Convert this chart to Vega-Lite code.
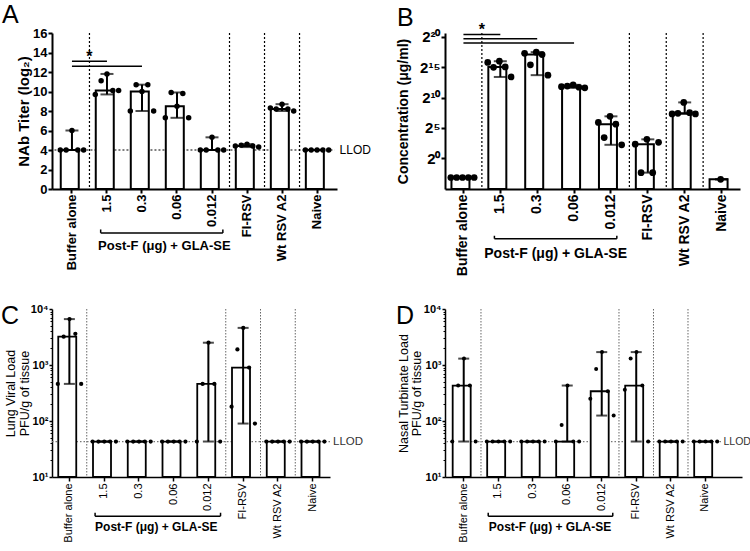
{
"$schema":"https://vega.github.io/schema/vega-lite/v6.json",
"padding":{"left":1,"top":3,"right":2,"bottom":0},
"config":{"font":"Liberation Sans","view":{"stroke":null},"axis":{"grid":false,"domainColor":"#000","tickColor":"#000","labelColor":"#000","titleColor":"#000","labelOverlap":false},"rule":{"color":"#000"},"tick":{"color":"#000"},"text":{"color":"#000"},"title":{"color":"#000"}},
"datasets":{
"A":[
{"g":"Buffer alone","v":4,"r":1},{"g":"Buffer alone","v":4,"r":2},{"g":"Buffer alone","v":6,"r":3},{"g":"Buffer alone","v":4,"r":4},{"g":"Buffer alone","v":4,"r":5},
{"g":"1.5","v":9.7,"r":1},{"g":"1.5","v":11.1,"r":2},{"g":"1.5","v":11.8,"r":3},{"g":"1.5","v":10.1,"r":4},{"g":"1.5","v":10.1,"r":5},
{"g":"0.3","v":8.0,"r":1},{"g":"0.3","v":10.7,"r":2},{"g":"0.3","v":10.0,"r":3},{"g":"0.3","v":10.7,"r":4},{"g":"0.3","v":8.0,"r":5},
{"g":"0.06","v":7.3,"r":1},{"g":"0.06","v":9.9,"r":2},{"g":"0.06","v":8.5,"r":3},{"g":"0.06","v":9.8,"r":4},{"g":"0.06","v":7.3,"r":5},
{"g":"0.012","v":4,"r":1},{"g":"0.012","v":4,"r":2},{"g":"0.012","v":5.3,"r":3},{"g":"0.012","v":4,"r":4},{"g":"0.012","v":4,"r":5},
{"g":"FI-RSV","v":4.4,"r":1},{"g":"FI-RSV","v":4.5,"r":2},{"g":"FI-RSV","v":4.6,"r":3},{"g":"FI-RSV","v":4.4,"r":4},{"g":"FI-RSV","v":4.3,"r":5},
{"g":"Wt RSV A2","v":8.3,"r":1},{"g":"Wt RSV A2","v":8.2,"r":2},{"g":"Wt RSV A2","v":8.7,"r":3},{"g":"Wt RSV A2","v":8.2,"r":4},{"g":"Wt RSV A2","v":8.0,"r":5},
{"g":"Naive","v":4,"r":1},{"g":"Naive","v":4,"r":2},{"g":"Naive","v":4,"r":3},{"g":"Naive","v":4,"r":4},{"g":"Naive","v":4,"r":5}],
"B":[
{"g":"Buffer alone","v":0.1088,"r":1},{"g":"Buffer alone","v":0.1088,"r":2},{"g":"Buffer alone","v":0.1088,"r":3},{"g":"Buffer alone","v":0.1088,"r":4},{"g":"Buffer alone","v":0.1088,"r":5},
{"g":"1.5","v":57053,"r":1},{"g":"1.5","v":32768,"r":2},{"g":"1.5","v":65536,"r":3},{"g":"1.5","v":34000,"r":4},{"g":"1.5","v":10809,"r":5},
{"g":"0.3","v":161368,"r":1},{"g":"0.3","v":43238,"r":2},{"g":"0.3","v":185364,"r":3},{"g":"0.3","v":140479,"r":4},{"g":"0.3","v":13308,"r":5},
{"g":"0.06","v":3566,"r":1},{"g":"0.06","v":3822,"r":2},{"g":"0.06","v":4390,"r":3},{"g":"0.06","v":3327,"r":4},{"g":"0.06","v":3104,"r":5},
{"g":"0.012","v":59.7,"r":1},{"g":"0.012","v":10.56,"r":2},{"g":"0.012","v":119.4,"r":3},{"g":"0.012","v":48.5,"r":4},{"g":"0.012","v":4.59,"r":5},
{"g":"FI-RSV","v":4.92,"r":1},{"g":"FI-RSV","v":0.1895,"r":2},{"g":"FI-RSV","v":8.57,"r":3},{"g":"FI-RSV","v":0.1895,"r":4},{"g":"FI-RSV","v":6.06,"r":5},
{"g":"Wt RSV A2","v":157.6,"r":1},{"g":"Wt RSV A2","v":168.9,"r":2},{"g":"Wt RSV A2","v":588,"r":3},{"g":"Wt RSV A2","v":181,"r":4},{"g":"Wt RSV A2","v":157.6,"r":5},
{"g":"Naive","v":0.0884,"r":3}],
"C":[
{"g":"Buffer alone","v":460,"r":1},{"g":"Buffer alone","v":3200,"r":2},{"g":"Buffer alone","v":6600,"r":3},{"g":"Buffer alone","v":3600,"r":4},{"g":"Buffer alone","v":460,"r":5},
{"g":"1.5","v":43,"r":1},{"g":"1.5","v":43,"r":2},{"g":"1.5","v":43,"r":3},{"g":"1.5","v":43,"r":4},{"g":"1.5","v":43,"r":5},
{"g":"0.3","v":43,"r":1},{"g":"0.3","v":43,"r":2},{"g":"0.3","v":43,"r":3},{"g":"0.3","v":43,"r":4},{"g":"0.3","v":43,"r":5},
{"g":"0.06","v":43,"r":1},{"g":"0.06","v":43,"r":2},{"g":"0.06","v":43,"r":3},{"g":"0.06","v":43,"r":4},{"g":"0.06","v":43,"r":5},
{"g":"0.012","v":43,"r":1},{"g":"0.012","v":460,"r":2},{"g":"0.012","v":2500,"r":3},{"g":"0.012","v":460,"r":4},{"g":"0.012","v":43,"r":5},
{"g":"FI-RSV","v":180,"r":1},{"g":"FI-RSV","v":1900,"r":2},{"g":"FI-RSV","v":4600,"r":3},{"g":"FI-RSV","v":900,"r":4},{"g":"FI-RSV","v":90,"r":5},
{"g":"Wt RSV A2","v":43,"r":1},{"g":"Wt RSV A2","v":43,"r":2},{"g":"Wt RSV A2","v":43,"r":3},{"g":"Wt RSV A2","v":43,"r":4},{"g":"Wt RSV A2","v":43,"r":5},
{"g":"Naive","v":43,"r":1},{"g":"Naive","v":43,"r":2},{"g":"Naive","v":43,"r":3},{"g":"Naive","v":43,"r":4},{"g":"Naive","v":43,"r":5}],
"D":[
{"g":"Buffer alone","v":43,"r":1},{"g":"Buffer alone","v":430,"r":2},{"g":"Buffer alone","v":1300,"r":3},{"g":"Buffer alone","v":430,"r":4},{"g":"Buffer alone","v":43,"r":5},
{"g":"1.5","v":43,"r":1},{"g":"1.5","v":43,"r":2},{"g":"1.5","v":43,"r":3},{"g":"1.5","v":43,"r":4},{"g":"1.5","v":43,"r":5},
{"g":"0.3","v":43,"r":1},{"g":"0.3","v":43,"r":2},{"g":"0.3","v":43,"r":3},{"g":"0.3","v":43,"r":4},{"g":"0.3","v":43,"r":5},
{"g":"0.06","v":43,"r":1},{"g":"0.06","v":85,"r":2},{"g":"0.06","v":430,"r":3},{"g":"0.06","v":43,"r":4},{"g":"0.06","v":43,"r":5},
{"g":"0.012","v":250,"r":1},{"g":"0.012","v":850,"r":2},{"g":"0.012","v":1700,"r":3},{"g":"0.012","v":340,"r":4},{"g":"0.012","v":125,"r":5},
{"g":"FI-RSV","v":360,"r":1},{"g":"FI-RSV","v":1300,"r":2},{"g":"FI-RSV","v":1700,"r":3},{"g":"FI-RSV","v":430,"r":4},{"g":"FI-RSV","v":43,"r":5},
{"g":"Wt RSV A2","v":43,"r":1},{"g":"Wt RSV A2","v":43,"r":2},{"g":"Wt RSV A2","v":43,"r":3},{"g":"Wt RSV A2","v":43,"r":4},{"g":"Wt RSV A2","v":43,"r":5},
{"g":"Naive","v":43,"r":1},{"g":"Naive","v":43,"r":2},{"g":"Naive","v":43,"r":3},{"g":"Naive","v":43,"r":4},{"g":"Naive","v":43,"r":5}]
},
"columns":2,"align":"all","bounds":"flush","spacing":{"row":108,"column":96},
"concat":[
{"width":285,"height":156,
"title":{"text":"A","anchor":"start","frame":"group","fontSize":25,"fontWeight":"normal","dx":-50,"dy":3,"offset":2},
"data":{"name":"A"},
"layer":[
{"data":{"values":[{"g":"1.5"},{"g":"FI-RSV"},{"g":"Wt RSV A2"},{"g":"Naive"}]},"mark":{"type":"rule","strokeWidth":1.2,"strokeDash":[2,2]},"encoding":{"x":{"field":"g","type":"nominal","bandPosition":0,"scale":{"domain":["Buffer alone","1.5","0.3","0.06","0.012","FI-RSV","Wt RSV A2","Naive"]}}}},
{"data":{"values":[{"g":"Buffer alone","g2":"Naive","y":4}]},"mark":{"type":"rule","strokeWidth":1.2,"strokeDash":[2,2]},"encoding":{"x":{"field":"g","type":"nominal","bandPosition":0},"x2":{"field":"g2","bandPosition":1},"y":{"field":"y","type":"quantitative"}}},
{"transform":[{"aggregate":[{"op":"median","field":"v","as":"med"}],"groupby":["g"]}],"mark":{"type":"bar","fill":"#fff","stroke":"#000","strokeWidth":2,"width":{"band":0.64}},"encoding":{"x":{"field":"g","type":"nominal","scale":{"domain":["Buffer alone","1.5","0.3","0.06","0.012","FI-RSV","Wt RSV A2","Naive"],"paddingInner":0,"paddingOuter":0.07},"axis":{"title":null,"labelAngle":-90,"labelFontSize":13,"labelFontWeight":"bold","labelPadding":1,"tickSize":4,"tickWidth":2,"domainWidth":2}},"y":{"field":"med","type":"quantitative","scale":{"domain":[0,16],"nice":false},"axis":{"title":"NAb Titer (log₂)","values":[0,2,4,6,8,10,12,14,16],"tickCount":20,"labelOverlap":false,"labelFlush":false,"titleFontSize":15,"titleFontWeight":"bold","titlePadding":1,"labelFontSize":13,"labelFontWeight":"bold","labelPadding":1,"tickSize":4,"tickWidth":2,"domainWidth":2}}}},
{"transform":[{"aggregate":[{"op":"min","field":"v","as":"mn"},{"op":"max","field":"v","as":"mx"}],"groupby":["g"]}],"layer":[
{"mark":{"type":"rule","strokeWidth":2},"encoding":{"x":{"field":"g","type":"nominal"},"y":{"field":"mn","type":"quantitative"},"y2":{"field":"mx"}}},
{"mark":{"type":"tick","orient":"horizontal","size":13,"thickness":2},"encoding":{"x":{"field":"g","type":"nominal"},"y":{"field":"mx","type":"quantitative"}}},
{"mark":{"type":"tick","orient":"horizontal","size":13,"thickness":2},"encoding":{"x":{"field":"g","type":"nominal"},"y":{"field":"mn","type":"quantitative"}}}]},
{"mark":{"type":"circle","size":30,"opacity":1,"color":"#000"},"encoding":{"x":{"field":"g","type":"nominal"},"xOffset":{"field":"r","type":"nominal","scale":{"paddingInner":0,"paddingOuter":1.06}},"y":{"field":"v","type":"quantitative"}}},
{"data":{"values":[{"g":"Buffer alone","g2":"1.5","y":13.1},{"g":"Buffer alone","g2":"0.3","y":12.6}]},"mark":{"type":"rule","strokeWidth":1.5},"encoding":{"x":{"field":"g","type":"nominal","bandPosition":0.5},"x2":{"field":"g2","bandPosition":0.5},"y":{"field":"y","type":"quantitative"}}},
{"data":{"values":[{"g":"1.5","y":13.5,"t":"*"}]},"mark":{"type":"text","fontSize":16,"fontWeight":"bold","baseline":"middle"},"encoding":{"x":{"field":"g","type":"nominal","bandPosition":0},"y":{"field":"y","type":"quantitative"},"text":{"field":"t"}}},
{"data":{"values":[{"g":"Naive","y":4,"t":"LLOD"}]},"mark":{"type":"text","align":"left","baseline":"middle","dx":5,"fontSize":12},"encoding":{"x":{"field":"g","type":"nominal","bandPosition":1},"y":{"field":"y","type":"quantitative"},"text":{"field":"t"}}},
{"data":{"values":[{"g":"1.5","g2":"0.012","y":-4.5}]},"mark":{"type":"rule","strokeWidth":1.5},"encoding":{"x":{"field":"g","type":"nominal","bandPosition":0.32},"x2":{"field":"g2","bandPosition":0.81},"y":{"field":"y","type":"quantitative"}}},
{"data":{"values":[{"g":"1.5","y":-4.5,"y2":-4.15}]},"mark":{"type":"rule","strokeWidth":1.5},"encoding":{"x":{"field":"g","type":"nominal","bandPosition":0.32},"y":{"field":"y","type":"quantitative"},"y2":{"field":"y2"}}},
{"data":{"values":[{"g":"0.012","y":-4.5,"y2":-4.15}]},"mark":{"type":"rule","strokeWidth":1.5},"encoding":{"x":{"field":"g","type":"nominal","bandPosition":0.81},"y":{"field":"y","type":"quantitative"},"y2":{"field":"y2"}}},
{"data":{"values":[{"g":"0.06","y":-4.5,"t":"Post-F (μg) + GLA-SE"}]},"mark":{"type":"text","baseline":"top","dy":7,"fontSize":13,"fontWeight":"bold"},"encoding":{"x":{"field":"g","type":"nominal","bandPosition":0.14},"y":{"field":"y","type":"quantitative"},"text":{"field":"t"}}}
]},
{"width":295,"height":156,
"title":{"text":"B","anchor":"start","frame":"group","fontSize":25,"fontWeight":"normal","dx":-48,"dy":11,"offset":2},
"data":{"name":"B"},
"layer":[
{"data":{"values":[{"g":"1.5"},{"g":"FI-RSV"},{"g":"Wt RSV A2"},{"g":"Naive"}]},"mark":{"type":"rule","strokeWidth":1.2,"strokeDash":[2,2]},"encoding":{"x":{"field":"g","type":"nominal","bandPosition":0,"scale":{"domain":["Buffer alone","1.5","0.3","0.06","0.012","FI-RSV","Wt RSV A2","Naive"]}}}},
{"transform":[{"aggregate":[{"op":"median","field":"v","as":"med"}],"groupby":["g"]}],"mark":{"type":"bar","fill":"#fff","stroke":"#000","strokeWidth":2,"width":{"band":0.65}},"encoding":{"x":{"field":"g","type":"nominal","scale":{"domain":["Buffer alone","1.5","0.3","0.06","0.012","FI-RSV","Wt RSV A2","Naive"],"paddingInner":0,"paddingOuter":0},"axis":{"title":null,"labelAngle":-90,"labelFontSize":14,"labelFontWeight":"bold","labelPadding":1,"tickSize":4,"tickWidth":2,"domainWidth":2}},"y":{"field":"med","type":"quantitative","scale":{"type":"log","base":2,"domain":[0.02916,1656750],"nice":false},"axis":{"title":"Concentration  (μg/ml)","values":[1,32,1024,32768,1048576],"tickCount":20,"labelOverlap":false,"labelExpr":"datum.value < 2 ? '2⁰' : datum.value < 40 ? '2⁵' : datum.value < 2000 ? '2¹⁰' : datum.value < 40000 ? '2¹⁵' : '2²⁰'","titleFontSize":14,"titleFontWeight":"bold","titlePadding":9,"labelFontSize":15,"labelFontWeight":"bold","labelPadding":1,"tickSize":4,"tickWidth":2,"domainWidth":2}},"y2":{"datum":0.02916}}},
{"transform":[{"aggregate":[{"op":"min","field":"v","as":"mn"},{"op":"max","field":"v","as":"mx"}],"groupby":["g"]}],"layer":[
{"mark":{"type":"rule","strokeWidth":2},"encoding":{"x":{"field":"g","type":"nominal"},"y":{"field":"mn","type":"quantitative"},"y2":{"field":"mx"}}},
{"mark":{"type":"tick","orient":"horizontal","size":13,"thickness":2},"encoding":{"x":{"field":"g","type":"nominal"},"y":{"field":"mx","type":"quantitative"}}},
{"mark":{"type":"tick","orient":"horizontal","size":13,"thickness":2},"encoding":{"x":{"field":"g","type":"nominal"},"y":{"field":"mn","type":"quantitative"}}}]},
{"mark":{"type":"circle","size":45,"opacity":1,"color":"#000"},"encoding":{"x":{"field":"g","type":"nominal"},"xOffset":{"field":"r","type":"nominal","scale":{"paddingInner":0,"paddingOuter":1.2}},"y":{"field":"v","type":"quantitative"}}},
{"data":{"values":[{"g":"Buffer alone","g2":"1.5","y":1383604},{"g":"Buffer alone","g2":"0.3","y":851706},{"g":"Buffer alone","g2":"0.06","y":524288}]},"mark":{"type":"rule","strokeWidth":1.5},"encoding":{"x":{"field":"g","type":"nominal","bandPosition":0.5},"x2":{"field":"g2","bandPosition":0.5},"y":{"field":"y","type":"quantitative"}}},
{"data":{"values":[{"g":"1.5","y":2409000,"t":"*"}]},"mark":{"type":"text","fontSize":16,"fontWeight":"bold","baseline":"middle"},"encoding":{"x":{"field":"g","type":"nominal","bandPosition":0},"y":{"field":"y","type":"quantitative"},"text":{"field":"t"}}},
{"data":{"values":[{"g":"1.5","g2":"0.012","y":0.000099}]},"mark":{"type":"rule","strokeWidth":1.5},"encoding":{"x":{"field":"g","type":"nominal","bandPosition":0.34},"x2":{"field":"g2","bandPosition":0.66},"y":{"field":"y","type":"quantitative"}}},
{"data":{"values":[{"g":"1.5","y":0.000099,"y2":0.000138}]},"mark":{"type":"rule","strokeWidth":1.5},"encoding":{"x":{"field":"g","type":"nominal","bandPosition":0.34},"y":{"field":"y","type":"quantitative"},"y2":{"field":"y2"}}},
{"data":{"values":[{"g":"0.012","y":0.000099,"y2":0.000138}]},"mark":{"type":"rule","strokeWidth":1.5},"encoding":{"x":{"field":"g","type":"nominal","bandPosition":0.66},"y":{"field":"y","type":"quantitative"},"y2":{"field":"y2"}}},
{"data":{"values":[{"g":"0.06","y":0.000099,"t":"Post-F (μg) + GLA-SE"}]},"mark":{"type":"text","baseline":"top","dy":8,"fontSize":14,"fontWeight":"bold"},"encoding":{"x":{"field":"g","type":"nominal","bandPosition":0},"y":{"field":"y","type":"quantitative"},"text":{"field":"t"}}}
]},
{"width":278,"height":168,
"title":{"text":"C","anchor":"start","frame":"group","fontSize":25,"fontWeight":"normal","dx":-51,"dy":28,"offset":2},
"data":{"name":"C"},
"resolve":{"axis":{"y":"independent"}},
"layer":[
{"layer":[
{"data":{"values":[{"g":"1.5"},{"g":"FI-RSV"},{"g":"Wt RSV A2"},{"g":"Naive"}]},"mark":{"type":"rule","strokeWidth":1,"strokeDash":[1.5,1.5],"color":"#666"},"encoding":{"x":{"field":"g","type":"nominal","bandPosition":0,"scale":{"domain":["Buffer alone","1.5","0.3","0.06","0.012","FI-RSV","Wt RSV A2","Naive"]}}}},
{"data":{"values":[{"g":"Buffer alone","g2":"Naive","y":43}]},"mark":{"type":"rule","strokeWidth":1.2,"strokeDash":[1.5,2],"color":"#777"},"encoding":{"x":{"field":"g","type":"nominal","bandPosition":0},"x2":{"field":"g2","bandPosition":1},"y":{"field":"y","type":"quantitative"}}},
{"transform":[{"aggregate":[{"op":"median","field":"v","as":"med"}],"groupby":["g"]}],"mark":{"type":"bar","fill":"#fff","stroke":"#000","strokeWidth":1.8,"width":{"band":0.64}},"encoding":{"x":{"field":"g","type":"nominal","scale":{"domain":["Buffer alone","1.5","0.3","0.06","0.012","FI-RSV","Wt RSV A2","Naive"],"paddingInner":0,"paddingOuter":0},"axis":{"title":null,"labelAngle":-90,"labelFontSize":11,"labelPadding":2,"tickSize":4,"tickWidth":1.5,"domainWidth":1.5}},"y":{"field":"med","type":"quantitative","scale":{"type":"log","domain":[10,10000],"nice":false},"axis":{"title":["Lung Viral Load","PFU/g of tissue"],"values":[10,100,1000,10000],"tickCount":20,"labelOverlap":false,"labelExpr":"datum.value < 50 ? '10¹' : datum.value < 500 ? '10²' : datum.value < 5000 ? '10³' : '10⁴'","titleFontSize":12.5,"titleFontWeight":"normal","titlePadding":-1,"titleLineHeight":14,"labelFontSize":11,"labelFontWeight":"bold","labelPadding":1,"tickSize":3,"tickWidth":1.5,"domainWidth":1.5}},"y2":{"datum":10}}},
{"transform":[{"aggregate":[{"op":"min","field":"v","as":"mn"},{"op":"max","field":"v","as":"mx"}],"groupby":["g"]}],"layer":[
{"mark":{"type":"rule","strokeWidth":2},"encoding":{"x":{"field":"g","type":"nominal"},"y":{"field":"mn","type":"quantitative"},"y2":{"field":"mx"}}},
{"mark":{"type":"tick","orient":"horizontal","size":11,"thickness":2},"encoding":{"x":{"field":"g","type":"nominal"},"y":{"field":"mx","type":"quantitative"}}},
{"mark":{"type":"tick","orient":"horizontal","size":11,"thickness":2},"encoding":{"x":{"field":"g","type":"nominal"},"y":{"field":"mn","type":"quantitative"}}}]},
{"mark":{"type":"circle","size":18,"opacity":1,"color":"#000"},"encoding":{"x":{"field":"g","type":"nominal"},"xOffset":{"field":"r","type":"nominal","scale":{"paddingInner":0,"paddingOuter":1.0}},"y":{"field":"v","type":"quantitative"}}},
{"data":{"values":[{"g":"Naive","y":43,"t":"LLOD"}]},"mark":{"type":"text","align":"left","baseline":"middle","dx":3,"fontSize":11.5,"color":"#333"},"encoding":{"x":{"field":"g","type":"nominal","bandPosition":1},"y":{"field":"y","type":"quantitative"},"text":{"field":"t"}}},
{"data":{"values":[{"g":"1.5","g2":"0.012","y":2.0}]},"mark":{"type":"rule","strokeWidth":1.5},"encoding":{"x":{"field":"g","type":"nominal","bandPosition":0.24},"x2":{"field":"g2","bandPosition":0.85},"y":{"field":"y","type":"quantitative"}}},
{"data":{"values":[{"g":"1.5","y":2.0,"y2":2.3}]},"mark":{"type":"rule","strokeWidth":1.5},"encoding":{"x":{"field":"g","type":"nominal","bandPosition":0.24},"y":{"field":"y","type":"quantitative"},"y2":{"field":"y2"}}},
{"data":{"values":[{"g":"0.012","y":2.0,"y2":2.3}]},"mark":{"type":"rule","strokeWidth":1.5},"encoding":{"x":{"field":"g","type":"nominal","bandPosition":0.85},"y":{"field":"y","type":"quantitative"},"y2":{"field":"y2"}}},
{"data":{"values":[{"g":"0.06","y":2.0,"t":"Post-F (μg) + GLA-SE"}]},"mark":{"type":"text","baseline":"top","dy":6,"fontSize":12,"fontWeight":"bold"},"encoding":{"x":{"field":"g","type":"nominal","bandPosition":0},"y":{"field":"y","type":"quantitative"},"text":{"field":"t"}}}
]},
{"data":{"values":[{"m":20}]},"mark":{"type":"point","opacity":0},"encoding":{"y":{"field":"m","type":"quantitative","axis":{"orient":"left","title":null,"labels":false,"domain":false,"values":[20,30,40,50,60,70,80,90,200,300,400,500,600,700,800,900,2000,3000,4000,5000,6000,7000,8000,9000],"tickCount":40,"tickSize":2,"tickWidth":1}}}}
]},
{"width":297,"height":168,
"title":{"text":"D","anchor":"start","frame":"group","fontSize":25,"fontWeight":"normal","dx":-49,"dy":28,"offset":2},
"data":{"name":"D"},
"resolve":{"axis":{"y":"independent"}},
"layer":[
{"layer":[
{"data":{"values":[{"g":"1.5"},{"g":"FI-RSV"},{"g":"Wt RSV A2"},{"g":"Naive"}]},"mark":{"type":"rule","strokeWidth":1,"strokeDash":[1.5,1.5],"color":"#666"},"encoding":{"x":{"field":"g","type":"nominal","bandPosition":0,"scale":{"domain":["Buffer alone","1.5","0.3","0.06","0.012","FI-RSV","Wt RSV A2","Naive"]}}}},
{"data":{"values":[{"g":"Buffer alone","g2":"Naive","y":43}]},"mark":{"type":"rule","strokeWidth":1.2,"strokeDash":[1.5,2],"color":"#777"},"encoding":{"x":{"field":"g","type":"nominal","bandPosition":0},"x2":{"field":"g2","bandPosition":1},"y":{"field":"y","type":"quantitative"}}},
{"transform":[{"aggregate":[{"op":"median","field":"v","as":"med"}],"groupby":["g"]}],"mark":{"type":"bar","fill":"#fff","stroke":"#000","strokeWidth":1.8,"width":{"band":0.64}},"encoding":{"x":{"field":"g","type":"nominal","scale":{"domain":["Buffer alone","1.5","0.3","0.06","0.012","FI-RSV","Wt RSV A2","Naive"],"paddingInner":0,"paddingOuter":0.304,"align":0.07},"axis":{"title":null,"labelAngle":-90,"labelFontSize":11,"labelPadding":2,"tickSize":4,"tickWidth":1.5,"domainWidth":1.5}},"y":{"field":"med","type":"quantitative","scale":{"type":"log","domain":[10,10000],"nice":false},"axis":{"title":["Nasal Turbinate Load","PFU/g of tissue"],"values":[10,100,1000,10000],"tickCount":20,"labelOverlap":false,"labelExpr":"datum.value < 50 ? '10¹' : datum.value < 500 ? '10²' : datum.value < 5000 ? '10³' : '10⁴'","titleFontSize":12.5,"titleFontWeight":"normal","titlePadding":0,"titleLineHeight":13,"labelFontSize":11,"labelFontWeight":"bold","labelPadding":1,"tickSize":3,"tickWidth":1.5,"domainWidth":1.5}},"y2":{"datum":10}}},
{"transform":[{"aggregate":[{"op":"min","field":"v","as":"mn"},{"op":"max","field":"v","as":"mx"}],"groupby":["g"]}],"layer":[
{"mark":{"type":"rule","strokeWidth":2},"encoding":{"x":{"field":"g","type":"nominal"},"y":{"field":"mn","type":"quantitative"},"y2":{"field":"mx"}}},
{"mark":{"type":"tick","orient":"horizontal","size":11,"thickness":2},"encoding":{"x":{"field":"g","type":"nominal"},"y":{"field":"mx","type":"quantitative"}}},
{"mark":{"type":"tick","orient":"horizontal","size":11,"thickness":2},"encoding":{"x":{"field":"g","type":"nominal"},"y":{"field":"mn","type":"quantitative"}}}]},
{"mark":{"type":"circle","size":16,"opacity":1,"color":"#000"},"encoding":{"x":{"field":"g","type":"nominal"},"xOffset":{"field":"r","type":"nominal","scale":{"paddingInner":0,"paddingOuter":1.8}},"y":{"field":"v","type":"quantitative"}}},
{"data":{"values":[{"g":"Naive","y":43,"t":"LLOD"}]},"mark":{"type":"text","align":"left","baseline":"middle","dx":1,"fontSize":10.5,"color":"#333"},"encoding":{"x":{"field":"g","type":"nominal","bandPosition":1},"y":{"field":"y","type":"quantitative"},"text":{"field":"t"}}},
{"data":{"values":[{"g":"1.5","g2":"0.012","y":2.0}]},"mark":{"type":"rule","strokeWidth":1.5},"encoding":{"x":{"field":"g","type":"nominal","bandPosition":0.21},"x2":{"field":"g2","bandPosition":0.82},"y":{"field":"y","type":"quantitative"}}},
{"data":{"values":[{"g":"1.5","y":2.0,"y2":2.3}]},"mark":{"type":"rule","strokeWidth":1.5},"encoding":{"x":{"field":"g","type":"nominal","bandPosition":0.21},"y":{"field":"y","type":"quantitative"},"y2":{"field":"y2"}}},
{"data":{"values":[{"g":"0.012","y":2.0,"y2":2.3}]},"mark":{"type":"rule","strokeWidth":1.5},"encoding":{"x":{"field":"g","type":"nominal","bandPosition":0.82},"y":{"field":"y","type":"quantitative"},"y2":{"field":"y2"}}},
{"data":{"values":[{"g":"0.06","y":2.0,"t":"Post-F (μg) + GLA-SE"}]},"mark":{"type":"text","baseline":"top","dy":6,"fontSize":12,"fontWeight":"bold"},"encoding":{"x":{"field":"g","type":"nominal","bandPosition":0},"y":{"field":"y","type":"quantitative"},"text":{"field":"t"}}}
]},
{"data":{"values":[{"m":20}]},"mark":{"type":"point","opacity":0},"encoding":{"y":{"field":"m","type":"quantitative","axis":{"orient":"left","title":null,"labels":false,"domain":false,"values":[20,30,40,50,60,70,80,90,200,300,400,500,600,700,800,900,2000,3000,4000,5000,6000,7000,8000,9000],"tickCount":40,"tickSize":2,"tickWidth":1}}}}
]}
]
}
